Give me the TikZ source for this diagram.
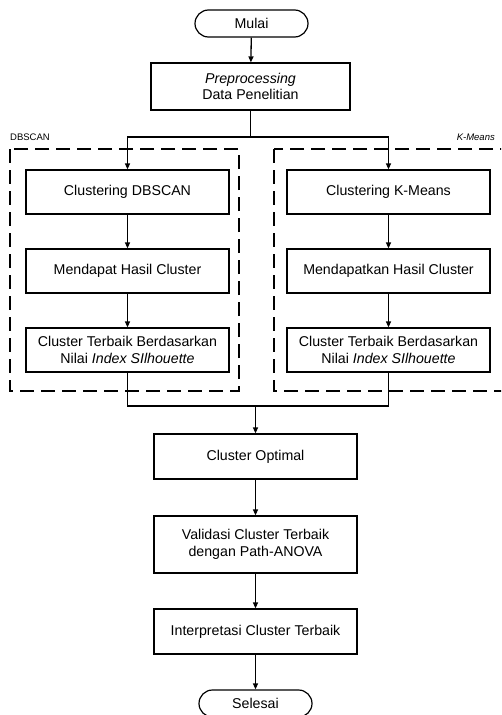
\documentclass[tikz,border=0pt]{standalone}
\usepackage{fontspec}
\setmainfont{Liberation Sans}
\usetikzlibrary{arrows.meta}
\begin{document}
\begin{tikzpicture}[x=1pt,y=-1pt,
  font=\fontsize{14.2}{16.7}\selectfont,
  proc/.style={draw,line width=1.2pt,rectangle,minimum width=203pt,minimum height=44pt,align=center,inner sep=2pt},
  term/.style={draw,line width=1.2pt,rectangle,rounded corners=13.5pt,minimum width=113pt,minimum height=27pt,inner sep=2pt},
  conn/.style={line width=1.3pt,-{Triangle[length=6pt,width=5pt]}},
  plain/.style={line width=1.3pt},
  grp/.style={line width=1.1pt,dash pattern=on 14pt off 7pt},
  lbl/.style={font=\fontsize{9.5}{11}\selectfont,inner sep=0pt}]
\clip (0,0) rectangle (501,715);
\fill[white] (0,0) rectangle (501,715);
% group frames
\draw[grp] (10,149) rectangle (239,391);
\draw[grp] (274,149) rectangle (530,391);
\node[lbl,anchor=south west] (lblD) at (10,141) {DBSCAN};
\node[lbl,anchor=south east] (lblK) at (495,141) {\itshape K-Means};
% nodes
\node[term] (mulai) at (251.5,23.5) {Mulai};
\node[proc,minimum width=199pt,minimum height=47pt] (pre) at (250.5,86.5) {\itshape Preprocessing\\Data Penelitian};
\node[proc] (cd) at (127.5,192) {Clustering DBSCAN};
\node[proc] (mh) at (127.5,271) {Mendapat Hasil Cluster};
\node[proc] (ct) at (127.5,350) {Cluster Terbaik Berdasarkan\\Nilai \textit{Index SIlhouette}};
\node[proc] (ck) at (388.5,192) {Clustering K-Means};
\node[proc] (mk) at (388.5,271) {Mendapatkan Hasil Cluster};
\node[proc] (ctk) at (388.5,350) {Cluster Terbaik Berdasarkan\\Nilai \textit{Index SIlhouette}};
\node[proc,minimum height=45pt] (opt) at (255.5,456.5) {Cluster Optimal};
\node[proc,minimum height=57pt] (val) at (255.5,544.5) {Validasi Cluster Terbaik\\dengan Path-ANOVA};
\node[proc,minimum height=45pt] (int) at (255.5,631.5) {Interpretasi Cluster Terbaik};
\node[term] (sel) at (255.5,703.5) {Selesai};
% junction coordinates
\coordinate (j1) at (250.5,137);
\coordinate (jl) at (127.5,137);
\coordinate (jr) at (388.5,137);
\coordinate (ml) at (127.5,406);
\coordinate (mr) at (388.5,406);
\coordinate (j2) at (255.5,406);
% connectors
\draw[conn] (mulai) -- (pre);
\draw[plain] (pre.south) -- (j1);
\draw[conn] (j1) -- (jl) -- (cd.north);
\draw[conn] (j1) -- (jr) -- (ck.north);
\draw[conn] (cd) -- (mh);
\draw[conn] (mh) -- (ct);
\draw[conn] (ck) -- (mk);
\draw[conn] (mk) -- (ctk);
\draw[plain] (ct.south) -- (ml) -- (mr) -- (ctk.south);
\draw[conn] (j2) -- (opt.north);
\draw[conn] (opt) -- (val);
\draw[conn] (val) -- (int);
\draw[conn] (int) -- (sel);
\end{tikzpicture}
\end{document}
